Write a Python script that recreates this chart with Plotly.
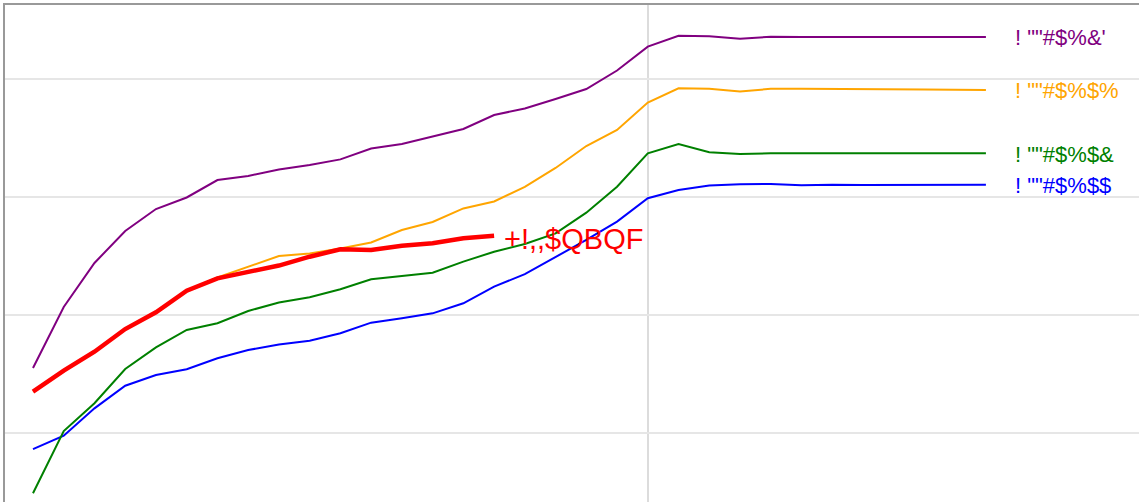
import plotly.graph_objects as go

# x positions (points along the curve)
steps = [0, 1, 2, 3, 4, 5, 6, 7, 8, 9, 10, 11, 12, 13, 14, 15,
         16, 17, 18, 19, 20, 21, 22, 23, 24, 25, 26, 27, 28, 29, 30, 31]

purple_vals = [15.51, 20.68, 24.41, 27.12, 28.98, 29.96, 31.44, 31.78, 32.33, 32.71,
               33.19, 34.11, 34.49, 35.13, 35.76, 36.95, 37.50, 38.31, 39.15, 40.72,
               42.74, 43.67, 43.63, 43.41, 43.58, 43.56, 43.56, 43.56, 43.56, 43.54,
               43.55, 43.56]
orange_vals = [13.50, 15.28, 16.89, 18.81, 20.23, 22.06, 23.18, 24.07, 25.00, 25.21,
               25.64, 26.14, 27.20, 27.88, 29.03, 29.62, 30.85, 32.46, 34.32, 35.68,
               38.01, 39.21, 39.17, 38.94, 39.17, 39.17, 39.17, 39.17, 39.15, 39.11,
               39.08, 39.07]
green_vals = [4.89, 10.17, 12.52, 15.42, 17.26, 18.73, 19.30, 20.34, 21.06, 21.50,
              22.18, 23.03, 23.31, 23.58, 24.52, 25.36, 26.02, 26.92, 28.67, 30.87,
              33.70, 34.49, 33.79, 33.64, 33.70, 33.70, 33.70, 33.70, 33.70, 33.70,
              33.70, 33.70]
blue_vals = [8.64, 9.77, 12.09, 14.01, 14.92, 15.40, 16.33, 17.03, 17.50, 17.82,
             18.45, 19.35, 19.72, 20.14, 20.99, 22.40, 23.47, 24.89, 26.36, 27.91,
             29.90, 30.59, 30.97, 31.08, 31.10, 30.99, 31.04, 31.02, 31.04, 31.04,
             31.04, 31.04]
red_vals = [13.50, 15.28, 16.89, 18.81, 20.23, 22.06, 23.11, 23.67, 24.19, 24.94,
            25.57, 25.51, 25.87, 26.08, 26.50, 26.72]

labels = {
    'purple': '! ""#$%&\'',
    'orange': '! ""#$%$%',
    'green': '! ""#$%$&',
    'blue': '! ""#$%$$',
    'red': '+!,,$QBQF',
}

series = [
    ('blue', blue_vals),
    ('green', green_vals),
    ('orange', orange_vals),
    ('purple', purple_vals),
]

fig = go.Figure()
for color, vals in series:
    fig.add_trace(go.Scatter(x=steps[:len(vals)], y=vals, mode='lines',
                             line=dict(color=color, width=2), hoverinfo='skip'))
    fig.add_annotation(x=steps[len(vals) - 1], y=vals[-1], text=labels[color],
                       showarrow=False, xanchor='left', yanchor='middle',
                       xshift=27, yshift=-1,
                       font=dict(family='Liberation Sans, Arial', size=22, color=color))

fig.add_trace(go.Scatter(x=steps[:len(red_vals)], y=red_vals, mode='lines',
                         line=dict(color='red', width=4.5), hoverinfo='skip'))
fig.add_annotation(x=steps[len(red_vals) - 1], y=red_vals[-1], text=labels['red'],
                   showarrow=False, xanchor='left', yanchor='middle',
                   xshift=8, yshift=-3,
                   font=dict(family='Liberation Sans, Arial', size=29, color='red'))

fig.update_layout(
    width=1139, height=502,
    margin=dict(l=5, r=0, t=5, b=0, autoexpand=False),
    paper_bgcolor='white', plot_bgcolor='white',
    showlegend=False,
)
fig.update_xaxes(range=[-0.911, 35.98], tickvals=[20], showticklabels=False,
                 showgrid=True, gridcolor='#dcdcdc', gridwidth=2, zeroline=False,
                 showline=True, linecolor='#999999', linewidth=2, side='top', ticks='')
fig.update_yaxes(range=[4.153, 46.271], tickvals=[10, 20, 30, 40], showticklabels=False,
                 showgrid=True, gridcolor='#e6e6e6', gridwidth=2, zeroline=False,
                 showline=True, linecolor='#999999', linewidth=2, ticks='')

fig.write_html("out.html", config={'displayModeBar': False},
               post_script="document.body.style.margin='0';")
